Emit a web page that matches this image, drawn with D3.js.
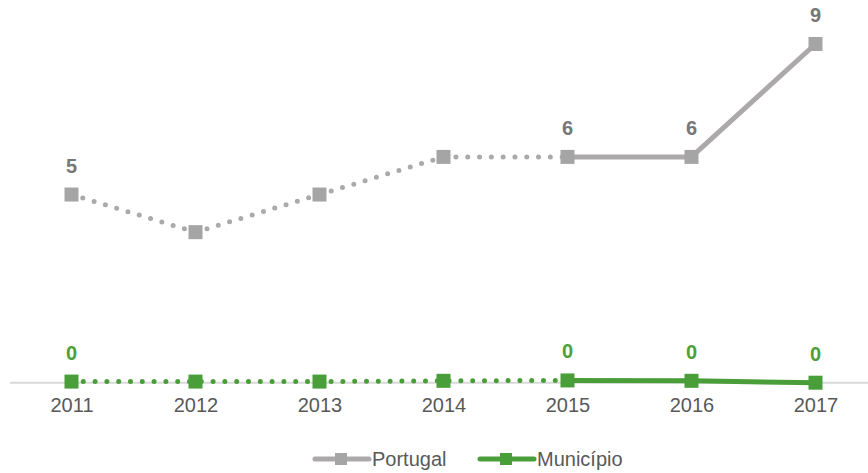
<!DOCTYPE html>
<html>
<head>
<meta charset="utf-8">
<script src="https://cdn.jsdelivr.net/npm/d3@7"></script>
<style>
  body { margin: 0; background: #fff; }
  svg { display: block; font-family: "Liberation Sans", Arial, sans-serif; }
</style>
</head>
<body>
<svg id="chart"></svg>
<script>
const years = ['2011', '2012', '2013', '2014', '2015', '2016', '2017'];
const portugal = [5.0, 4.0, 5.0, 6.0, 6.0, 6.0, 9.0];
const municipio = [0.03, 0.03, 0.03, 0.05, 0.06, 0.05, 0.0];
const labelledYears = ['2011', '2015', '2016', '2017'];
const dottedUntil = '2015';
const seriesNames = ['Portugal', 'Município'];

const W = 868, H = 473;
const svg = d3.select('svg#chart').attr('width', W).attr('height', H);

const x = d3.scalePoint().domain(years).range([9.5, 877.5]).padding(0.5);
const y = d3.scaleLinear().domain([0, 9]).range([382.7, 44]);

// eixo x
svg.append('line')
  .attr('x1', 10).attr('x2', W)
  .attr('y1', y(0)).attr('y2', y(0))
  .attr('stroke', '#d9d9d9').attr('stroke-width', 2);

const axisX = d3.axisBottom(x).tickSize(0).tickPadding(15);
const gx = svg.append('g').attr('transform', 'translate(0,' + y(0) + ')').call(axisX);
gx.select('.domain').remove();
gx.selectAll('text')
  .style('font-size', '20px')
  .style('font-family', '"Liberation Sans", Arial, sans-serif')
  .attr('fill', '#595959');

const series = [
  { name: seriesNames[0], values: portugal, line: '#aba9a9', mark: '#a5a5a5', label: '#777' },
  { name: seriesNames[1], values: municipio, line: '#4a9e3a', mark: '#4a9e3a', label: '#4ea03a' }
];

const line = d3.line().x(d => x(d.year)).y(d => y(d.v));
const cut = years.indexOf(dottedUntil);

series.forEach(s => {
  const pts = years.map((yr, i) => ({ year: yr, v: s.values[i] }));
  const g = svg.append('g');
  g.append('path').datum(pts.slice(0, cut + 1))
    .attr('d', line).attr('fill', 'none')
    .attr('stroke', s.line).attr('stroke-width', 5)
    .attr('stroke-linecap', 'round').attr('stroke-dasharray', '0 11.8');
  g.append('path').datum(pts.slice(cut))
    .attr('d', line).attr('fill', 'none')
    .attr('stroke', s.line).attr('stroke-width', 5)
    .attr('stroke-linejoin', 'round');
  g.selectAll('rect').data(pts).enter().append('rect')
    .attr('x', d => x(d.year) - 7).attr('y', d => y(d.v) - 7)
    .attr('width', 14).attr('height', 14)
    .attr('fill', s.mark);
  g.selectAll('text').data(pts.filter(d => labelledYears.includes(d.year))).enter().append('text')
    .attr('x', d => x(d.year)).attr('y', d => y(d.v) - 22)
    .attr('text-anchor', 'middle')
    .style('font-size', '20px').style('font-weight', 'bold')
    .attr('fill', s.label)
    .text(d => d3.format('.0f')(d.v));
});

// legenda
const legendX = [313, 478];
const legend = svg.append('g').attr('transform', 'translate(0,459)');
series.forEach((s, i) => {
  const lg = legend.append('g').attr('transform', 'translate(' + legendX[i] + ',0)');
  lg.append('line').attr('x1', 2).attr('x2', 56).attr('y1', 0).attr('y2', 0)
    .attr('stroke', s.line).attr('stroke-width', 5).attr('stroke-linecap', 'round');
  lg.append('rect').attr('x', 22).attr('y', -6).attr('width', 12).attr('height', 12).attr('fill', s.mark);
  lg.append('text').attr('x', 59).attr('y', 7)
    .style('font-size', '20px').attr('fill', '#595959').text(s.name);
});
</script>
</body>
</html>
